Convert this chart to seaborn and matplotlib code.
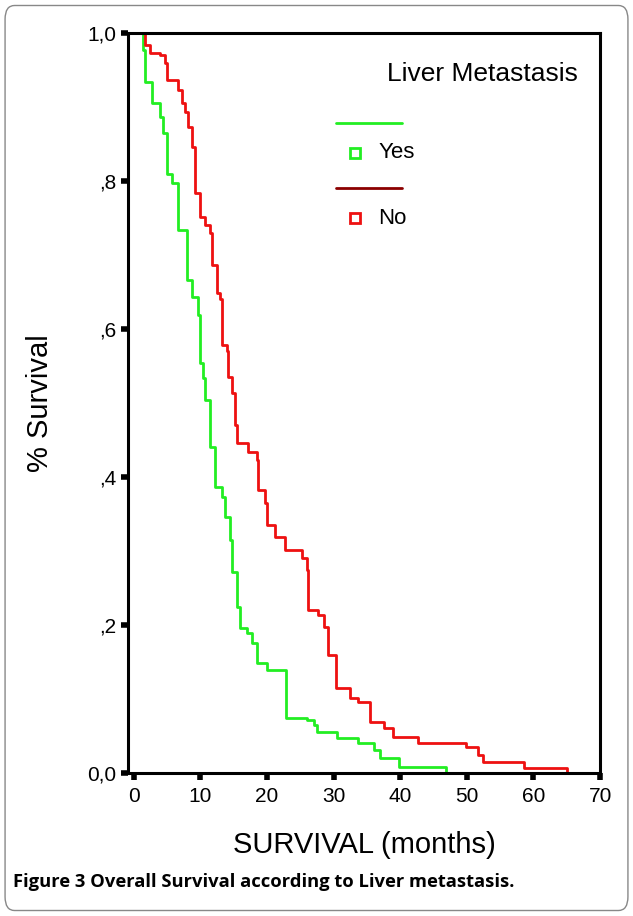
import pandas as pd
import numpy as np
import matplotlib
matplotlib.use('Agg')
import matplotlib.pyplot as plt
import seaborn as sns
from matplotlib.patches import FancyBboxPatch

# Kaplan-Meier step points
yes_months = [0, 0.2, 1.4, 1.7, 2.7, 3.9, 4.4, 5.0, 5.7, 6.6, 7.7, 8.0, 8.7, 9.6, 9.9, 10.4,
              10.7, 11.4, 12.2, 13.2, 13.7, 14.5, 14.7, 15.5, 16.0, 17.0, 17.8, 18.5, 20.0,
              22.9, 26.0, 27.0, 27.5, 30.5, 33.7, 36.0, 37.0, 39.8, 46.8]
yes_surv = [1.0, 1.0, 0.977, 0.934, 0.905, 0.886, 0.865, 0.81, 0.797, 0.734, 0.734, 0.666,
            0.643, 0.619, 0.554, 0.534, 0.504, 0.44, 0.386, 0.373, 0.346, 0.315, 0.272, 0.224,
            0.196, 0.189, 0.176, 0.149, 0.139, 0.074, 0.072, 0.065, 0.055, 0.047, 0.04, 0.031,
            0.02, 0.008, 0.0]
no_months = [0, 1.7, 2.4, 3.9, 4.7, 5.0, 6.6, 7.2, 7.7, 8.1, 8.7, 9.2, 9.9, 10.7, 11.4, 11.7,
             12.5, 13.0, 13.2, 14.0, 14.2, 14.7, 15.2, 15.5, 17.2, 18.5, 18.7, 19.7, 20.0, 21.2,
             22.7, 25.3, 26.0, 26.2, 27.7, 28.5, 29.2, 30.3, 32.5, 33.6, 35.5, 37.5, 38.9, 42.6,
             49.8, 51.7, 52.4, 58.6, 65.0]
no_surv = [1.0, 0.984, 0.973, 0.97, 0.96, 0.936, 0.923, 0.905, 0.893, 0.873, 0.846, 0.784,
           0.751, 0.741, 0.73, 0.686, 0.649, 0.64, 0.578, 0.57, 0.535, 0.513, 0.47, 0.446,
           0.434, 0.423, 0.382, 0.365, 0.335, 0.319, 0.301, 0.29, 0.274, 0.22, 0.213, 0.197,
           0.159, 0.115, 0.101, 0.096, 0.069, 0.061, 0.049, 0.04, 0.035, 0.024, 0.015, 0.007, 0.0]

x_ticks = [0, 10, 20, 30, 40, 50, 60, 70]
y_ticks = [0.0, 0.2, 0.4, 0.6, 0.8, 1.0]
y_labels = ['0,0', ',2', ',4', ',6', ',8', '1,0']

df = pd.concat([
    pd.DataFrame({'months': yes_months, 'surv': yes_surv, 'group': 'Yes'}),
    pd.DataFrame({'months': no_months, 'surv': no_surv, 'group': 'No'}),
])

sns.set_style('white')
plt.rcParams['font.family'] = ['Liberation Sans', 'DejaVu Sans']
plt.rcParams['text.color'] = 'black'
plt.rcParams['axes.labelcolor'] = 'black'
plt.rcParams['xtick.color'] = 'black'
plt.rcParams['ytick.color'] = 'black'

fig = plt.figure(figsize=(6.33, 9.16), dpi=100)
ax = fig.add_axes([0.202, 0.156, 0.746, 0.808])

palette = {'Yes': '#22ee22', 'No': '#ee1111'}
sns.lineplot(data=df, x='months', y='surv', hue='group', palette=palette,
             drawstyle='steps-post', lw=2, ax=ax, legend=False, estimator=None)

ax.set_xlim(-0.9, 70)
ax.set_ylim(0, 1.0)
ax.set_xticks(x_ticks)
ax.set_yticks(y_ticks)
ax.set_yticklabels(y_labels)
for s in ax.spines.values():
    s.set_linewidth(2.2)
    s.set_color('black')
ax.tick_params(axis='both', bottom=True, left=True, direction='out', length=5, width=4,
               labelsize=15, color='black')
ax.tick_params(axis='x', pad=5)
ax.set_xlabel('SURVIVAL (months)', fontsize=21, labelpad=18)
ax.set_ylabel('% Survival', fontsize=21, labelpad=24)

# legend drawn SPSS-style
ax.text(0.75, 0.935, 'Liver Metastasis', transform=ax.transAxes, fontsize=19, ha='center')
for yy, lab, col, lc in [(0.878, 'Yes', '#22ee22', '#22ee22'), (0.79, 'No', '#ee1111', '#8b0000')]:
    ax.plot([0.44, 0.58], [yy, yy], transform=ax.transAxes, color=lc, lw=2)
    ax.plot([0.48], [yy - 0.04], transform=ax.transAxes, marker='s', ms=7, mfc='none',
            mec=col, mew=2)
    ax.text(0.53, yy - 0.04, lab, transform=ax.transAxes, fontsize=16, va='center')

fig.text(0.02, 0.037, 'Figure 3 Overall Survival according to Liver metastasis.',
         fontsize=13.2, fontweight='bold', va='center', family=['Open Sans', 'DejaVu Sans'])
fig.patches.append(FancyBboxPatch((0.008, 0.006), 0.984, 0.988, boxstyle='round,pad=0,rounding_size=0.015',
                                  transform=fig.transFigure, fill=False, ec='#888888', lw=1))

fig.savefig('out.png', dpi=100)
